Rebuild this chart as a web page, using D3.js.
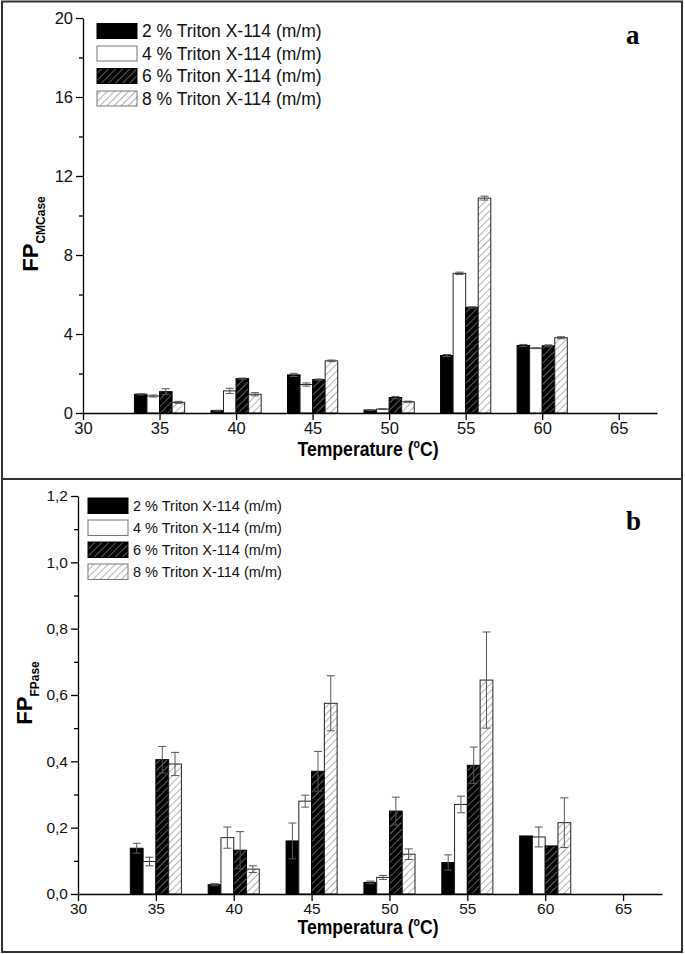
<!DOCTYPE html>
<html><head><meta charset="utf-8">
<script src="https://cdn.jsdelivr.net/npm/d3@7"></script>
<style>body{margin:0;background:#fff}</style></head>
<body>
<svg id="chart" width="685" height="954"></svg>
<script>
// ---------- data ----------
const temperatures = [35, 40, 45, 50, 55, 60];
const seriesLabels = ["2 % Triton X-114 (m/m)", "4 % Triton X-114 (m/m)", "6 % Triton X-114 (m/m)", "8 % Triton X-114 (m/m)"];

const cmcase2 = [0.95, 0.12, 1.93, 0.15, 2.91, 3.42];
const cmcase4 = [0.86, 1.12, 1.44, 0.20, 7.07, 3.28];
const cmcase6 = [1.08, 1.74, 1.69, 0.78, 5.35, 3.40];
const cmcase8 = [0.54, 0.95, 2.64, 0.57, 10.88, 3.81];
const cmcaseErr2 = [0.03, 0.02, 0.08, 0.02, 0.05, 0.05];
const cmcaseErr4 = [0.05, 0.13, 0.08, 0.02, 0.06, 0.02];
const cmcaseErr6 = [0.15, 0.03, 0.03, 0.06, 0.03, 0.05];
const cmcaseErr8 = [0.05, 0.08, 0.04, 0.03, 0.10, 0.05];

const fpase2 = [0.138, 0.028, 0.160, 0.035, 0.095, 0.175];
const fpase4 = [0.098, 0.170, 0.280, 0.050, 0.270, 0.172];
const fpase6 = [0.405, 0.132, 0.370, 0.250, 0.388, 0.145];
const fpase8 = [0.392, 0.075, 0.575, 0.120, 0.645, 0.215];
const fpaseErr2 = [0.015, 0.003, 0.054, 0.004, 0.023, 0.0];
const fpaseErr4 = [0.013, 0.032, 0.018, 0.006, 0.025, 0.030];
const fpaseErr6 = [0.040, 0.056, 0.060, 0.042, 0.055, 0.0];
const fpaseErr8 = [0.035, 0.010, 0.083, 0.016, 0.145, 0.075];

const xTicks = [30, 35, 40, 45, 50, 55, 60, 65];
const xDomain = [30, 67.5];
const yTicksA = [0, 4, 8, 12, 16, 20];
const yMinorA = [2, 6, 10, 14, 18];
const yTicksB = [0, 0.2, 0.4, 0.6, 0.8, 1.0, 1.2];
const yMinorB = [0.1, 0.3, 0.5, 0.7, 0.9, 1.1];

// ---------- drawing ----------
const svg = d3.select("#chart");
const defs = svg.append("defs");
function hatch(id, bg, fg, sw) {
  const p = defs.append("pattern").attr("id", id).attr("patternUnits", "userSpaceOnUse")
    .attr("width", 5).attr("height", 5).attr("patternTransform", "rotate(45)");
  p.append("rect").attr("width", 5).attr("height", 5).attr("fill", bg);
  p.append("line").attr("x1", 0).attr("y1", 0).attr("x2", 0).attr("y2", 5)
    .attr("stroke", fg).attr("stroke-width", sw);
}
hatch("darkHatch", "#000", "#bbb", 1);
hatch("lightHatch", "#fff", "#555", 0.9);

const fills = ["#000", "#fff", "url(#darkHatch)", "url(#lightHatch)"];
const strokes = ["#000", "#222", "#000", "#222"];
const sans = "'Liberation Sans',Arial,sans-serif";

svg.append("rect").attr("x", 2).attr("y", 1.5).attr("width", 680).attr("height", 477.5)
  .attr("fill", "none").attr("stroke", "#333").attr("stroke-width", 2);
svg.append("rect").attr("x", 2).attr("y", 479).attr("width", 680).attr("height", 473)
  .attr("fill", "none").attr("stroke", "#333").attr("stroke-width", 2);

function panel(cfg) {
  const g = svg.append("g");
  const x = d3.scaleLinear().domain(xDomain).range([cfg.left, cfg.right]);
  const y = d3.scaleLinear().domain([0, cfg.yMax]).range([cfg.bottom, cfg.top]);
  const bw = 0.82; // bar width in °C units

  cfg.series.forEach((vals, si) => {
    const sg = g.append("g");
    sg.selectAll("rect").data(temperatures).join("rect")
      .attr("x", (t) => x(t - 2 * bw + si * bw))
      .attr("width", x(xDomain[0] + bw) - x(xDomain[0]))
      .attr("y", (t, i) => y(vals[i]))
      .attr("height", (t, i) => y(0) - y(vals[i]))
      .attr("fill", fills[si]).attr("stroke", strokes[si]).attr("stroke-width", 1);
    const errs = cfg.errors[si];
    const eg = g.append("g").attr("stroke", "#555").attr("stroke-width", 1);
    temperatures.forEach((t, i) => {
      if (errs[i] <= 0) return;
      const cx = x(t - 2 * bw + (si + 0.5) * bw);
      const y1 = y(vals[i] + errs[i]), y2 = y(vals[i] - errs[i]);
      eg.append("line").attr("x1", cx).attr("x2", cx).attr("y1", y1).attr("y2", y2);
      eg.append("line").attr("x1", cx - 4).attr("x2", cx + 4).attr("y1", y1).attr("y2", y1);
      eg.append("line").attr("x1", cx - 4).attr("x2", cx + 4).attr("y1", y2).attr("y2", y2);
    });
  });

  const xa = g.append("g").attr("transform", `translate(0,${cfg.bottom})`)
    .call(d3.axisBottom(x).tickValues(xTicks).tickSize(7).tickSizeOuter(0).tickPadding(2));
  const ya = g.append("g").attr("transform", `translate(${cfg.left},0)`)
    .call(d3.axisLeft(y).tickValues(cfg.yTicks).tickSize(7).tickSizeOuter(0).tickPadding(3)
      .tickFormat(cfg.yFormat));
  g.append("g").attr("transform", `translate(${cfg.left},0)`)
    .call(d3.axisLeft(y).tickValues(cfg.yMinor).tickSize(4).tickSizeOuter(0).tickFormat(""))
    .select(".domain").remove();
  g.selectAll(".domain, .tick line").attr("stroke", "#000").attr("stroke-width", 1.3);
  [xa, ya].forEach(a => a.attr("font-family", sans).attr("font-size", cfg.tickSize)
    .selectAll("text").attr("fill", "#111"));

  seriesLabels.forEach((lab, i) => {
    const ly = cfg.legY + i * cfg.legStep;
    g.append("rect").attr("x", cfg.legX).attr("y", ly).attr("width", 40).attr("height", cfg.legH)
      .attr("fill", fills[i]).attr("stroke", i === 0 || i === 2 ? "#000" : "#777").attr("stroke-width", 1);
    g.append("text").attr("x", cfg.legX + 45).attr("y", ly + cfg.legH / 2).attr("dy", "0.36em")
      .attr("font-family", sans).attr("font-size", cfg.legFont).attr("fill", "#111").text(lab);
  });

  g.append("text").attr("x", 626).attr("y", cfg.letterY).attr("font-family", "'Liberation Serif','Times New Roman',serif")
    .attr("font-weight", "bold").attr("font-size", 27).attr("fill", "#000").text(cfg.letter);

  const xt = g.append("text").attr("transform", `translate(368,${cfg.xTitleY}) scale(0.88,1)`)
    .attr("text-anchor", "middle")
    .attr("font-family", sans).attr("font-weight", "bold").attr("font-size", 20).attr("fill", "#000");
  xt.append("tspan").text(cfg.xTitle + " (");
  xt.append("tspan").attr("font-size", 12).attr("dy", -8).text("o");
  xt.append("tspan").attr("dy", 8).text("C)");

  const yt = g.append("text").attr("transform", `translate(${cfg.yTitleX},${cfg.yTitleY}) rotate(-90)`)
    .attr("text-anchor", "middle").attr("font-family", sans).attr("font-weight", "bold").attr("fill", "#000");
  yt.append("tspan").attr("font-size", 22).text("FP");
  yt.append("tspan").attr("font-size", 12).attr("dy", 7).text(cfg.ySub);
}

panel({
  left: 83, right: 657, top: 18, bottom: 413, yMax: 20,
  yTicks: yTicksA, yMinor: yMinorA, yFormat: d3.format("d"),
  series: [cmcase2, cmcase4, cmcase6, cmcase8],
  errors: [cmcaseErr2, cmcaseErr4, cmcaseErr6, cmcaseErr8],
  tickSize: 16.5,
  legX: 97, legY: 23.5, legStep: 22.5, legH: 15, legFont: 17.5,
  letter: "a", letterY: 44,
  xTitle: "Temperature", xTitleY: 456,
  ySub: "CMCase", yTitleX: 38, yTitleY: 234
});

panel({
  left: 78, right: 662, top: 496, bottom: 894, yMax: 1.2,
  yTicks: yTicksB, yMinor: yMinorB, yFormat: (d) => d3.format(".1f")(d).replace(".", ","),
  series: [fpase2, fpase4, fpase6, fpase8],
  errors: [fpaseErr2, fpaseErr4, fpaseErr6, fpaseErr8],
  tickSize: 15.5,
  legX: 88, legY: 498, legStep: 22, legH: 15.5, legFont: 14.5,
  letter: "b", letterY: 530,
  xTitle: "Temperatura", xTitleY: 934,
  ySub: "FPase", yTitleX: 32, yTitleY: 693
});
</script>
</body></html>
